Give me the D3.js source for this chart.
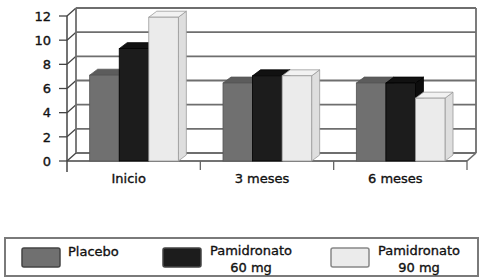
<!DOCTYPE html>
<html lang="es">
<head>
<meta charset="UTF-8">
<title>Placebo vs Pamidronato</title>
<script src="https://d3js.org/d3.v7.min.js"></script>
<style>
  body { margin: 0; background: #fff; }
  svg { display: block; font-family: "DejaVu Sans", Verdana, sans-serif; }
  text { fill: #111; stroke: #111; stroke-width: 0.35px; font-size: 13px; }
</style>
</head>
<body>
<svg width="484" height="280"></svg>
<script>
// datos
const categories = ["Inicio", "3 meses", "6 meses"];
const seriesNames = ["Placebo", "Pamidronato 60 mg", "Pamidronato 90 mg"];
const placebo = [7.1, 6.45, 6.45];
const pam60 = [9.3, 7.05, 6.45];
const pam90 = [11.9, 7.05, 5.2];
const yTicks = [0, 2, 4, 6, 8, 10, 12];

const values = [placebo, pam60, pam90];
const fronts = ["#707070", "#1c1c1c", "#ebebeb"];
const tops = ["#5c5c5c", "#111111", "#f2f2f2"];
const sides = ["#555555", "#0d0d0d", "#dedede"];
const edges = ["#555", "#000", "#9a9a9a"];

const svg = d3.select("svg");

// profundidad 3D
const dx = 9, dy = -8;    // pared
const bdx = 8, bdy = -6;  // barras

const x = d3.scaleBand().domain(categories).range([67, 467]).paddingInner(0).paddingOuter(0);
const bw = x.bandwidth();
const xs = d3.scaleBand().domain(d3.range(seriesNames.length)).range([bw * 0.17, bw * 0.835]);
const y = d3.scaleLinear().domain([0, 12]).range([161, 16]);

const x0 = 67, x1 = 467, y0 = y(0);
const grid = "#6e6e6e";

const g = svg.append("g");

// rejilla: pared del fondo + pared izquierda + marcas
yTicks.forEach(t => {
  g.append("line").attr("x1", x0 + dx).attr("x2", x1 + dx)
    .attr("y1", y(t) + dy).attr("y2", y(t) + dy)
    .attr("stroke", grid).attr("stroke-width", 1.8);
  g.append("line").attr("x1", x0).attr("x2", x0 + dx)
    .attr("y1", y(t)).attr("y2", y(t) + dy)
    .attr("stroke", "#444").attr("stroke-width", 1.3);
  g.append("line").attr("x1", x0 - 8).attr("x2", x0)
    .attr("y1", y(t)).attr("y2", y(t))
    .attr("stroke", "#444").attr("stroke-width", 1.3);
});

// bordes de las paredes
g.append("line").attr("x1", x0 + dx).attr("x2", x0 + dx)
  .attr("y1", y(12) + dy).attr("y2", y0 + dy).attr("stroke", grid).attr("stroke-width", 1.8);
g.append("line").attr("x1", x1 + dx).attr("x2", x1 + dx)
  .attr("y1", y(12) + dy).attr("y2", y0 + dy).attr("stroke", grid).attr("stroke-width", 1.8);
g.append("line").attr("x1", x1).attr("x2", x1 + dx)
  .attr("y1", y0).attr("y2", y0 + dy).attr("stroke", grid).attr("stroke-width", 1.6);

// eje izquierdo y suelo
g.append("line").attr("x1", x0).attr("x2", x0)
  .attr("y1", y(12)).attr("y2", y0 + 11).attr("stroke", "#444").attr("stroke-width", 1.5);
g.append("line").attr("x1", x0).attr("x2", x1)
  .attr("y1", y0).attr("y2", y0).attr("stroke", "#444").attr("stroke-width", 1.5);

// marcas entre categorías
categories.forEach((c, i) => {
  const xe = x(c) + bw;
  g.append("line").attr("x1", xe).attr("x2", xe)
    .attr("y1", y0).attr("y2", y0 + 9).attr("stroke", "#666").attr("stroke-width", 1.3);
});

// etiquetas eje Y
g.selectAll(".ytick").data(yTicks).enter().append("text")
  .attr("x", 51).attr("y", d => y(d)).attr("dy", "0.36em")
  .attr("text-anchor", "end")
  .text(d => d);

// etiquetas categorías
g.selectAll(".xcat").data(categories).enter().append("text")
  .attr("x", d => x(d) + bw / 2 - 5).attr("y", 183)
  .attr("text-anchor", "middle")
  .text(d => d);

// barras 3D
categories.forEach((c, ci) => {
  values.forEach((vals, si) => {
    const left = x(c) + xs(si);
    const right = left + xs.bandwidth();
    const top = y(vals[ci]);
    const bg = g.append("g");
    // lado
    bg.append("polygon")
      .attr("points", [[right, top], [right + bdx, top + bdy], [right + bdx, y0 + bdy], [right, y0]].join(" "))
      .attr("fill", sides[si]).attr("stroke", edges[si]).attr("stroke-width", 0.8);
    // tapa
    bg.append("polygon")
      .attr("points", [[left, top], [left + bdx, top + bdy], [right + bdx, top + bdy], [right, top]].join(" "))
      .attr("fill", tops[si]).attr("stroke", edges[si]).attr("stroke-width", 0.8);
    // frente
    bg.append("rect")
      .attr("x", left).attr("y", top)
      .attr("width", right - left).attr("height", y0 - top)
      .attr("fill", fronts[si]).attr("stroke", edges[si]).attr("stroke-width", 0.8);
  });
});

// leyenda
const leg = svg.append("g");
leg.append("rect").attr("x", 5).attr("y", 238).attr("width", 473).attr("height", 38)
  .attr("fill", "#fff").attr("stroke", "#7a7a7a").attr("stroke-width", 2);

const legX = [22, 163, 331];
seriesNames.forEach((name, i) => {
  leg.append("rect").attr("x", legX[i]).attr("y", 248).attr("width", 38).attr("height", 19)
    .attr("rx", 2).attr("fill", fronts[i]).attr("stroke", i === 2 ? "#888" : "#444").attr("stroke-width", 1.5);
  const parts = name.startsWith("Pamidronato") ? ["Pamidronato", name.slice(12)] : [name];
  if (parts.length === 1) {
    leg.append("text").attr("x", legX[i] + 46).attr("y", 256).text(parts[0]);
  } else {
    const cx = legX[i] + 88;
    parts.forEach((p, k) => {
      leg.append("text").attr("x", cx).attr("y", 255 + k * 17)
        .attr("text-anchor", "middle").text(p);
    });
  }
});
</script>
</body>
</html>
